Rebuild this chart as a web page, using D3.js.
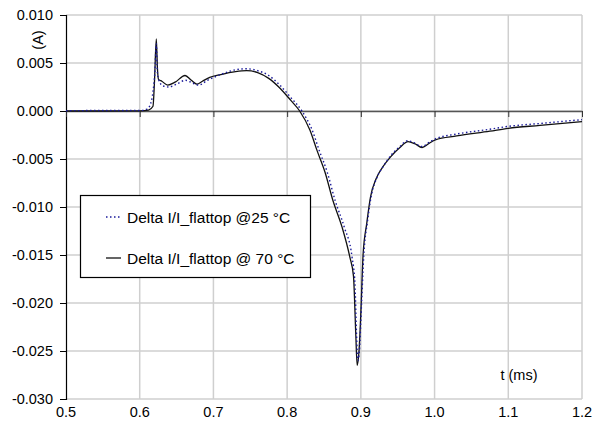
<!DOCTYPE html>
<html><head><meta charset="utf-8">
<script src="https://cdn.jsdelivr.net/npm/d3@7"></script>
<style>body{margin:0;background:#fff}svg{display:block;font-family:"Liberation Sans",Arial,sans-serif}</style>
</head><body><svg id="c" width="601" height="429"></svg>
<script>
const xTicks = [0.5,0.6,0.7,0.8,0.9,1.0,1.1,1.2];
const yTicks = [0.010,0.005,0.000,-0.005,-0.010,-0.015,-0.020,-0.025,-0.030];
const seriesNames = ["Delta I/I_flattop @25 °C","Delta I/I_flattop @ 70 °C"];
const t70 = [0.5,0.55,0.60,0.612,0.618,0.620,0.6225,0.624,0.6255,0.630,0.638,0.648,0.6615,0.670,0.6775,0.685,0.695,0.710,0.730,0.745,0.760,0.775,0.790,0.805,0.817,0.831,0.8405,0.8515,0.862,0.8745,0.885,0.890,0.893,0.895,0.8975,0.900,0.903,0.908,0.913,0.921,0.930,0.940,0.953,0.964,0.973,0.983,0.992,1.001,1.030,1.075,1.100,1.143,1.200];
const v70 = [0,0,0.00002,0.0001,0.0005,0.003,0.0075,0.0045,0.0033,0.0031,0.0027,0.0030,0.0037,0.0032,0.0028,0.0031,0.0035,0.0038,0.0041,0.0042,0.0040,0.0034,0.0024,0.0011,0.0000,-0.0020,-0.0041,-0.0064,-0.0093,-0.0121,-0.0152,-0.0172,-0.0230,-0.0265,-0.0250,-0.0210,-0.0150,-0.0117,-0.0090,-0.0070,-0.0058,-0.0048,-0.0038,-0.0032,-0.0034,-0.0038,-0.0034,-0.0030,-0.0026,-0.0021,-0.0018,-0.0015,-0.0011];
const t25 = [0.5,0.55,0.60,0.610,0.615,0.618,0.6205,0.6225,0.624,0.627,0.632,0.640,0.650,0.662,0.672,0.680,0.692,0.710,0.730,0.745,0.760,0.775,0.790,0.805,0.820,0.834,0.8435,0.8545,0.865,0.8775,0.888,0.892,0.894,0.896,0.898,0.901,0.904,0.909,0.914,0.922,0.931,0.940,0.953,0.963,0.972,0.983,0.992,1.001,1.030,1.075,1.100,1.143,1.200];
const v25 = [0.00003,0.00005,0.00005,0.0002,0.0008,0.0020,0.0040,0.0070,0.0040,0.0030,0.0026,0.0025,0.0028,0.0032,0.0029,0.0027,0.0032,0.0038,0.0043,0.0044,0.0042,0.0037,0.0027,0.0014,0.0000,-0.0020,-0.0041,-0.0064,-0.0093,-0.0121,-0.0152,-0.0180,-0.0230,-0.0260,-0.0250,-0.0200,-0.0150,-0.0115,-0.0089,-0.0069,-0.0057,-0.0047,-0.0037,-0.0031,-0.0033,-0.0037,-0.0033,-0.0029,-0.0024,-0.0019,-0.0016,-0.0013,-0.0009];

const svg = d3.select("#c");
const L=66,R=582,T=15,B=399;
const x = d3.scaleLinear().domain([0.5,1.2]).range([L,R]);
const y = d3.scaleLinear().domain([-0.03,0.01]).range([B,T]);
const font = 14.5;

// gridlines
svg.append("g").selectAll("line").data(xTicks.slice(1)).join("line")
  .attr("x1",d=>x(d)).attr("x2",d=>x(d)).attr("y1",T).attr("y2",B)
  .attr("stroke","#cfcfcf").attr("stroke-width",1.5);
svg.append("g").selectAll("line").data(yTicks).join("line")
  .attr("x1",L).attr("x2",R).attr("y1",d=>y(d)).attr("y2",d=>y(d))
  .attr("stroke","#cfcfcf").attr("stroke-width",1.5);

// y axis
const ya = svg.append("g").attr("transform",`translate(${L},0)`)
  .call(d3.axisLeft(y).tickValues(yTicks).tickFormat(d3.format(".3f")).tickSize(6).tickPadding(7));
ya.select(".domain").attr("stroke","#000").attr("stroke-width",1.2);
ya.selectAll(".tick line").attr("stroke","#000");
ya.selectAll("text").attr("font-size",font).attr("font-family","Liberation Sans, Arial, sans-serif").attr("fill","#000")
  .text(d=>d3.format(".3f")(d).replace("−","-"));

// x axis at zero
const xa = svg.append("g").attr("transform",`translate(0,${y(0)})`)
  .call(d3.axisBottom(x).tickValues(xTicks).tickFormat("").tickSize(6).tickSizeOuter(0));
xa.select(".domain").attr("stroke","#555").attr("stroke-width",1.5);
xa.selectAll(".tick line").attr("stroke","#333");

// x tick labels at bottom
svg.append("g").selectAll("text").data(xTicks).join("text")
  .attr("x",d=>x(d)).attr("y",B+18).attr("text-anchor","middle")
  .attr("font-size",font).text(d=>d3.format(".1f")(d));

// series
const line = d3.line().x(d=>x(d[0])).y(d=>y(d[1])).curve(d3.curveMonotoneX);
svg.append("path").datum(t70.map((t,i)=>[t,v70[i]]))
  .attr("d",line).attr("fill","none").attr("stroke","#111").attr("stroke-width",1.3);
svg.append("path").datum(t25.map((t,i)=>[t,v25[i]]))
  .attr("d",line).attr("fill","none").attr("stroke","#1a1a9a").attr("stroke-width",1.4).attr("stroke-dasharray","1.5,2.5");

// axis titles
svg.append("text").attr("transform","translate(43,40) rotate(-90)").attr("text-anchor","middle")
  .attr("font-size",font).text("(A)");
svg.append("text").attr("x",519).attr("y",380).attr("text-anchor","middle").attr("font-size",font).text("t (ms)");

// legend
const lg = svg.append("g");
lg.append("rect").attr("x",80.5).attr("y",195.5).attr("width",230).attr("height",82)
  .attr("fill","#fff").attr("stroke","#000").attr("stroke-width",1.2);
const ly = [217,258];
lg.append("line").attr("x1",106).attr("x2",121).attr("y1",ly[0]).attr("y2",ly[0])
  .attr("stroke","#1a1a9a").attr("stroke-width",1.3).attr("stroke-dasharray","1.5,2.5");
lg.append("line").attr("x1",106).attr("x2",121).attr("y1",ly[1]).attr("y2",ly[1])
  .attr("stroke","#111").attr("stroke-width",1.3);
lg.selectAll("text.l").data(seriesNames).join("text").attr("class","l")
  .attr("x",127).attr("y",(d,i)=>ly[i]+5.5).attr("font-size",15.5).text(d=>d);
</script></body></html>
